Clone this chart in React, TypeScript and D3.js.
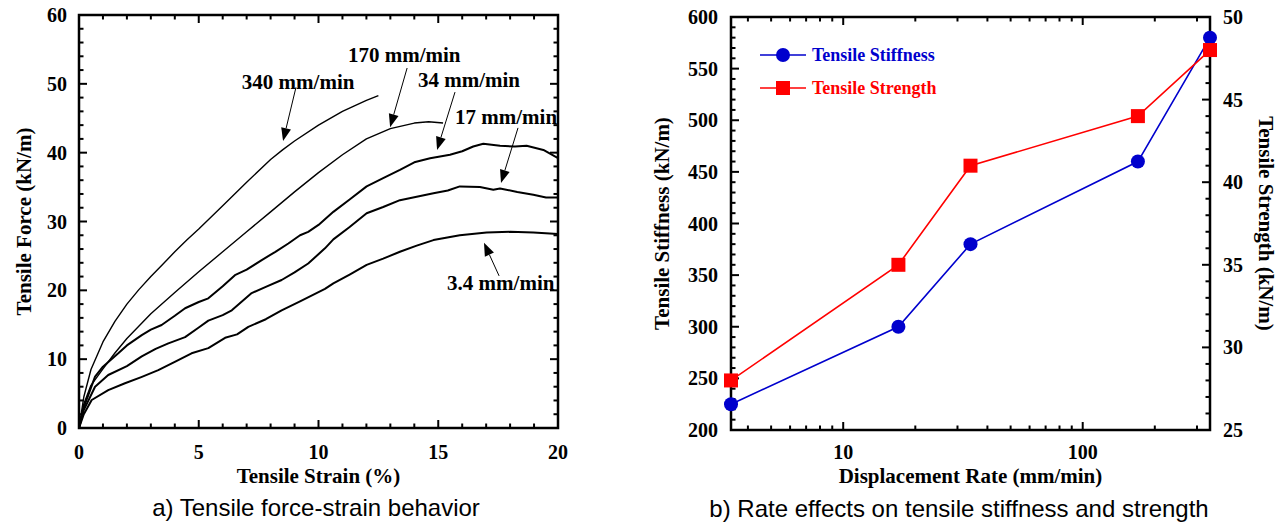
import React from 'react';
import * as d3 from 'd3';

// ---------- Data: a) tensile force-strain curves ----------
const strainTicks = [0, 5, 10, 15, 20];
const forceTicks = [0, 10, 20, 30, 40, 50, 60];

const curve340: [number, number][] = [[0,0],[0.2,4.5],[0.5,8.5],[1,12.5],[1.5,15.5],[2,18.0],[2.5,20.1],[3,22.0],[3.5,23.8],[4,25.6],[4.5,27.3],[5,28.9],[6,32.3],[7,35.7],[8,39.0],[8.5,40.4],[9,41.7],[10,44.0],[11,46.0],[11.5,46.8],[12,47.6],[12.5,48.3]];
const curve170: [number, number][] = [[0,0],[0.2,3.5],[0.5,6.2],[1,8.6],[1.5,10.9],[2,13.0],[3,16.6],[4,19.7],[5,22.7],[6,25.6],[7,28.5],[8,31.4],[9,34.3],[10,37.1],[11,39.7],[12,42.0],[13,43.5],[14,44.3],[14.6,44.5],[15.2,44.3]];
const curve34: [number, number][] = [[0,0],[0.2,3.0],[0.67,7.45],[1,8.9],[1.64,10.85],[2,12.0],[2.62,13.5],[3,14.3],[3.45,14.96],[4,16.3],[4.43,17.4],[5,18.3],[5.4,18.84],[6,20.6],[6.51,22.2],[7,23.0],[7.63,24.4],[8.2,25.6],[8.74,26.8],[9.23,28.0],[9.57,28.5],[10,29.5],[10.62,31.4],[11.3,33.2],[12.01,35.1],[12.7,36.3],[13.4,37.5],[14,38.6],[14.66,39.2],[15.49,39.7],[16,40.2],[16.46,40.9],[16.88,41.3],[17.58,41.0],[18.2,40.9],[18.69,41.0],[19.39,40.4],[20,39.2]];
const curve17: [number, number][] = [[0,0],[0.2,2.6],[0.67,6.0],[1.22,7.7],[2,9.0],[2.62,10.4],[3.2,11.5],[3.73,12.3],[4.43,13.2],[5,14.6],[5.4,15.6],[6,16.4],[6.38,17.1],[7.21,19.6],[7.8,20.5],[8.46,21.5],[9,22.6],[9.57,23.9],[10.27,26.1],[10.62,27.4],[11.3,29.2],[12.01,31.2],[12.7,32.1],[13.4,33.1],[14.1,33.6],[14.8,34.1],[15.4,34.5],[15.9,35.1],[16.74,35.0],[17.3,34.6],[17.58,34.8],[18.3,34.3],[18.97,33.9],[19.5,33.5],[20,33.5]];
const curve3_4: [number, number][] = [[0,0],[0.2,2.0],[0.53,4.07],[1.22,5.5],[1.92,6.5],[2.6,7.4],[3.31,8.4],[4,9.6],[4.7,10.85],[5.4,11.6],[6.1,13.1],[6.6,13.6],[7.07,14.7],[7.8,15.8],[8.46,17.1],[9.23,18.4],[10.27,20.2],[10.62,21.0],[11.3,22.3],[12.01,23.7],[12.7,24.6],[13.4,25.6],[14.1,26.5],[14.8,27.3],[15.9,28.0],[17.02,28.4],[18.0,28.5],[18.97,28.4],[20,28.2]];

// annotation labels: text, text position (strain, force), arrow tail, arrow tip
const annLabels = ['340 mm/min', '170 mm/min', '34 mm/min', '17 mm/min', '3.4 mm/min'];
const annText: [number, number][] = [[6.8, 49.25], [11.23, 53.2], [14.15, 49.5], [15.7, 44.2], [15.37, 20.05]];
const annTail: [number, number][] = [[9.06, 49.5], [13.7, 52.3], [15.7, 48.8], [18.33, 43.6], [17.54, 22.1]];
const annTip: [number, number][] = [[8.52, 41.7], [12.99, 43.7], [14.95, 40.4], [17.62, 35.6], [16.91, 26.9]];

// ---------- Data: b) rate effects ----------
const rates = [3.4, 17, 34, 170, 340];
const stiffness = [225, 300, 380, 460, 580];
const strength = [28, 35, 41, 44, 48];
const stiffTicks = [200, 250, 300, 350, 400, 450, 500, 550, 600];
const strengthTicks = [25, 30, 35, 40, 45, 50];
const rateTicks = [10, 100];
const rateMinorTicks = [4, 5, 6, 7, 8, 9, 20, 30, 40, 50, 60, 70, 80, 90, 200, 300];
const seriesNames = ['Tensile Stiffness', 'Tensile Strength'];

const SERIF = '"Liberation Serif", "Times New Roman", serif';
const SANS = '"Liberation Sans", Arial, sans-serif';
const BLUE = '#0000cd';
const RED = '#ff0000';

function Arrow({ x1, y1, x2, y2 }: { x1: number; y1: number; x2: number; y2: number }) {
  const ang = Math.atan2(y2 - y1, x2 - x1);
  const L = 13, Wd = 5;
  const bx = x2 - L * Math.cos(ang), by = y2 - L * Math.sin(ang);
  const px = -Math.sin(ang) * Wd, py = Math.cos(ang) * Wd;
  return (
    <g>
      <line x1={x1} y1={y1} x2={bx} y2={by} stroke="#000" strokeWidth={1} />
      <polygon points={`${x2},${y2} ${bx + px},${by + py} ${bx - px},${by - py}`} fill="#000" />
    </g>
  );
}

export default function App() {
  // ----- left chart -----
  const xL = d3.scaleLinear().domain([0, 20]).range([79, 558]);
  const yL = d3.scaleLinear().domain([0, 60]).range([428, 15]);
  const lineL = d3.line<[number, number]>().x(d => xL(d[0])).y(d => yL(d[1]));
  const curves = [
    { d: curve340, w: 1.4 },
    { d: curve170, w: 1.4 },
    { d: curve34, w: 2.0 },
    { d: curve17, w: 2.0 },
    { d: curve3_4, w: 2.0 },
  ];
  const xMinorL = d3.range(0, 21, 1).filter(v => v % 5 !== 0);
  const yMinorL = d3.range(0, 61, 2).filter(v => v % 10 !== 0);

  // ----- right chart -----
  const xR = d3.scaleLog().domain([3.4, 340]).range([731, 1210]);
  const yR1 = d3.scaleLinear().domain([200, 600]).range([430, 17]);
  const yR2 = d3.scaleLinear().domain([25, 50]).range([430, 17]);
  const yMinorR1 = d3.range(200, 601, 10).filter(v => v % 50 !== 0);
  const yMinorR2 = d3.range(25, 51, 1).filter(v => v % 5 !== 0);
  const stiffPts = rates.map((r, i) => [r, stiffness[i]] as [number, number]);
  const strPts = rates.map((r, i) => [r, strength[i]] as [number, number]);
  const lineStiff = d3.line<[number, number]>().x(d => xR(d[0])).y(d => yR1(d[1]));
  const lineStr = d3.line<[number, number]>().x(d => xR(d[0])).y(d => yR2(d[1]));

  const MAJ = 8, MIN = 4.5;
  const tickStyle = { fontFamily: SERIF, fontWeight: 700, fontSize: 20 } as const;
  const titleStyle = { fontFamily: SERIF, fontWeight: 700, fontSize: 21 } as const;

  const [l0, l1] = xL.range();
  const [lb, lt] = yL.range();
  const [r0, r1] = xR.range();
  const [rb, rt] = yR1.range();

  return (
    <svg width={1286} height={523} style={{ position: 'absolute', left: 0, top: 0, background: '#fff' }}>
      <rect x={0} y={0} width={1286} height={523} fill="#fff" />
      {/* ===== Left chart ===== */}
      <g>
        {curves.map((c, i) => (
          <path key={i} d={lineL(c.d) || ''} fill="none" stroke="#000" strokeWidth={c.w} strokeLinejoin="round" />
        ))}
        {strainTicks.map(v => (
          <g key={'xm' + v}>
            <line x1={xL(v)} x2={xL(v)} y1={lb} y2={lb - MAJ} stroke="#000" strokeWidth={2} />
            <line x1={xL(v)} x2={xL(v)} y1={lt} y2={lt + MAJ} stroke="#000" strokeWidth={2} />
            <text x={xL(v)} y={452} textAnchor="middle" dominantBaseline="central" style={tickStyle}>{v}</text>
          </g>
        ))}
        {xMinorL.map(v => (
          <g key={'xn' + v}>
            <line x1={xL(v)} x2={xL(v)} y1={lb} y2={lb - MIN} stroke="#000" strokeWidth={2} />
            <line x1={xL(v)} x2={xL(v)} y1={lt} y2={lt + MIN} stroke="#000" strokeWidth={2} />
          </g>
        ))}
        {forceTicks.map(v => (
          <g key={'ym' + v}>
            <line x1={l0} x2={l0 + MAJ} y1={yL(v)} y2={yL(v)} stroke="#000" strokeWidth={2} />
            <line x1={l1} x2={l1 - MAJ} y1={yL(v)} y2={yL(v)} stroke="#000" strokeWidth={2} />
            <text x={67} y={yL(v)} textAnchor="end" dominantBaseline="central" style={tickStyle}>{v}</text>
          </g>
        ))}
        {yMinorL.map(v => (
          <g key={'yn' + v}>
            <line x1={l0} x2={l0 + MIN} y1={yL(v)} y2={yL(v)} stroke="#000" strokeWidth={2} />
            <line x1={l1} x2={l1 - MIN} y1={yL(v)} y2={yL(v)} stroke="#000" strokeWidth={2} />
          </g>
        ))}
        <rect x={l0} y={lt} width={l1 - l0} height={lb - lt} fill="none" stroke="#000" strokeWidth={2.5} />
        {annLabels.map((t, i) => (
          <g key={'an' + i}>
            <Arrow x1={xL(annTail[i][0])} y1={yL(annTail[i][1])} x2={xL(annTip[i][0])} y2={yL(annTip[i][1])} />
            <text x={xL(annText[i][0])} y={yL(annText[i][1])} style={titleStyle}>{t}</text>
          </g>
        ))}
        <text x={(l0 + l1) / 2} y={476} textAnchor="middle" dominantBaseline="central" style={titleStyle}>Tensile Strain (%)</text>
        <text transform={`translate(24,${(lb + lt) / 2}) rotate(-90)`} textAnchor="middle" dominantBaseline="central" style={titleStyle}>Tensile Force (kN/m)</text>
        <text x={316} y={507} textAnchor="middle" dominantBaseline="central" style={{ fontFamily: SANS, fontSize: 24 }}>a) Tensile force-strain behavior</text>
      </g>

      {/* ===== Right chart ===== */}
      <g>
        {rateTicks.map(v => (
          <g key={'rm' + v}>
            <line x1={xR(v)} x2={xR(v)} y1={rb} y2={rb - MAJ} stroke="#000" strokeWidth={2} />
            <line x1={xR(v)} x2={xR(v)} y1={rt} y2={rt + MAJ} stroke="#000" strokeWidth={2} />
            <text x={xR(v)} y={452} textAnchor="middle" dominantBaseline="central" style={tickStyle}>{v}</text>
          </g>
        ))}
        {rateMinorTicks.map(v => (
          <g key={'rn' + v}>
            <line x1={xR(v)} x2={xR(v)} y1={rb} y2={rb - MIN} stroke="#000" strokeWidth={2} />
            <line x1={xR(v)} x2={xR(v)} y1={rt} y2={rt + MIN} stroke="#000" strokeWidth={2} />
          </g>
        ))}
        {stiffTicks.map(v => (
          <g key={'sm' + v}>
            <line x1={r0} x2={r0 + MAJ} y1={yR1(v)} y2={yR1(v)} stroke="#000" strokeWidth={2} />
            <text x={718} y={yR1(v)} textAnchor="end" dominantBaseline="central" style={tickStyle}>{v}</text>
          </g>
        ))}
        {yMinorR1.map(v => (
          <line key={'sn' + v} x1={r0} x2={r0 + MIN} y1={yR1(v)} y2={yR1(v)} stroke="#000" strokeWidth={2} />
        ))}
        {strengthTicks.map(v => (
          <g key={'tm' + v}>
            <line x1={r1} x2={r1 - MAJ} y1={yR2(v)} y2={yR2(v)} stroke="#000" strokeWidth={2} />
            <text x={1223} y={yR2(v)} textAnchor="start" dominantBaseline="central" style={tickStyle}>{v}</text>
          </g>
        ))}
        {yMinorR2.map(v => (
          <line key={'tn' + v} x1={r1} x2={r1 - MIN} y1={yR2(v)} y2={yR2(v)} stroke="#000" strokeWidth={2} />
        ))}
        <rect x={r0} y={rt} width={r1 - r0} height={rb - rt} fill="none" stroke="#000" strokeWidth={2.5} />

        <path d={lineStiff(stiffPts) || ''} fill="none" stroke={BLUE} strokeWidth={1.6} />
        {stiffPts.map((p, i) => (
          <circle key={'c' + i} cx={xR(p[0])} cy={yR1(p[1])} r={7} fill={BLUE} />
        ))}
        <path d={lineStr(strPts) || ''} fill="none" stroke={RED} strokeWidth={1.6} />
        {strPts.map((p, i) => (
          <rect key={'q' + i} x={xR(p[0]) - 7} y={yR2(p[1]) - 7} width={14} height={14} fill={RED} />
        ))}

        <line x1={760} x2={806} y1={55} y2={55} stroke={BLUE} strokeWidth={1.6} />
        <circle cx={783} cy={55} r={7} fill={BLUE} />
        <text x={812} y={55} dominantBaseline="central" fill={BLUE} style={{ fontFamily: SERIF, fontWeight: 700, fontSize: 18 }}>{seriesNames[0]}</text>
        <line x1={760} x2={806} y1={88} y2={88} stroke={RED} strokeWidth={1.6} />
        <rect x={776} y={81} width={14} height={14} fill={RED} />
        <text x={812} y={88} dominantBaseline="central" fill={RED} style={{ fontFamily: SERIF, fontWeight: 700, fontSize: 18 }}>{seriesNames[1]}</text>

        <text x={(r0 + r1) / 2} y={476} textAnchor="middle" dominantBaseline="central" style={titleStyle}>Displacement Rate (mm/min)</text>
        <text transform={`translate(662,${(rb + rt) / 2}) rotate(-90)`} textAnchor="middle" dominantBaseline="central" style={titleStyle}>Tensile Stiffness (kN/m)</text>
        <text transform={`translate(1266,${(rb + rt) / 2}) rotate(90)`} textAnchor="middle" dominantBaseline="central" style={titleStyle}>Tensile Strength (kN/m)</text>
        <text x={959} y={508} textAnchor="middle" dominantBaseline="central" style={{ fontFamily: SANS, fontSize: 24 }}>b) Rate effects on tensile stiffness and strength</text>
      </g>
    </svg>
  );
}
